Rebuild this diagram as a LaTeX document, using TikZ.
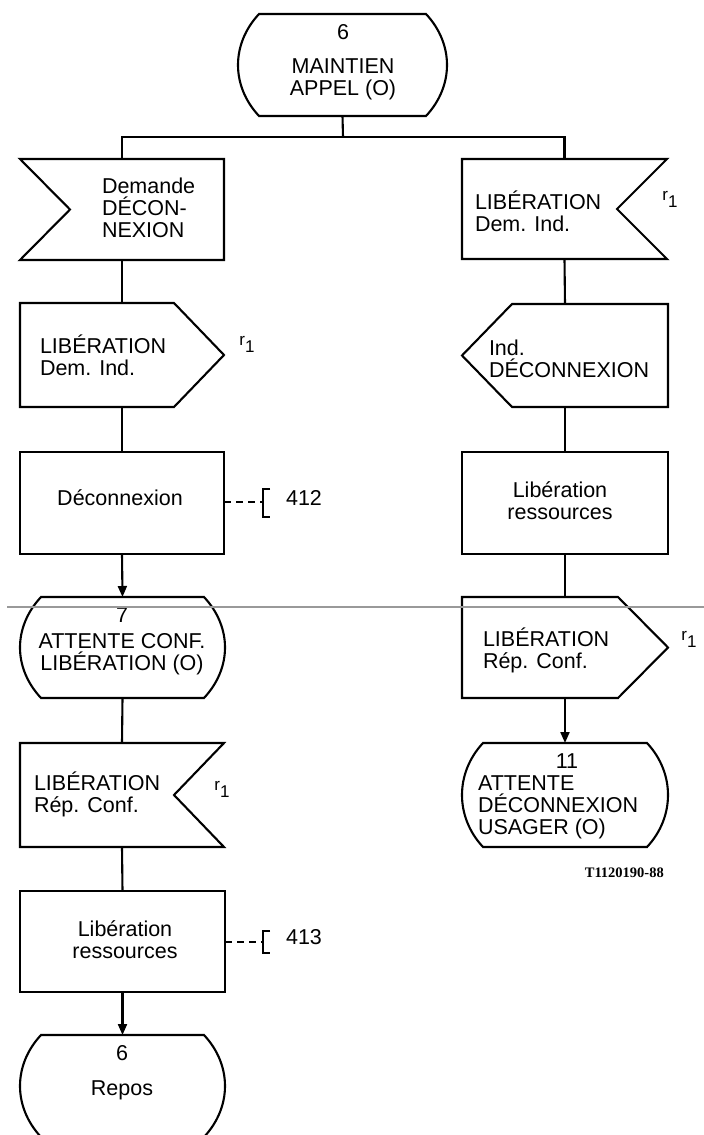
\documentclass[tikz,border=0pt]{standalone}
\usepackage{fontspec}
\setmainfont{Liberation Sans}
\newfontfamily\refserif{Liberation Serif}
\usetikzlibrary{arrows.meta,calc}

% SDL symbol outlines, drawn around an invisible frame node
\newcommand\drawState[1]{%
  \draw[outline] ($(#1.north west)+(21,0)$) -- ($(#1.north east)+(-21,0)$)
    .. controls ($(#1.north east)+(7,30)$) and ($(#1.south east)+(7,-30)$) .. ($(#1.south east)+(-21,0)$)
    -- ($(#1.south west)+(21,0)$)
    .. controls ($(#1.south west)+(-7,-30)$) and ($(#1.north west)+(-7,30)$) .. ($(#1.north west)+(21,0)$) -- cycle;}
\newcommand\drawInWest[1]{%
  \draw[outline] (#1.north west) -- (#1.north east) -- (#1.south east) -- (#1.south west)
    -- ($(#1.west)+(50,0)$) -- cycle;}
\newcommand\drawInEast[1]{%
  \draw[outline] (#1.north west) -- (#1.north east) -- ($(#1.east)+(-50,0)$) -- (#1.south east)
    -- (#1.south west) -- cycle;}
\newcommand\drawOutEast[1]{%
  \draw[outline] (#1.north west) -- ($(#1.north east)+(-50,0)$) -- (#1.east)
    -- ($(#1.south east)+(-50,0)$) -- (#1.south west) -- cycle;}
\newcommand\drawOutWest[1]{%
  \draw[outline] ($(#1.north west)+(50,0)$) -- (#1.north east) -- (#1.south east)
    -- ($(#1.south west)+(50,0)$) -- (#1.west) -- cycle;}
% comment bracket at a coordinate: top offset, bottom offset
\newcommand\drawBracket[3]{%
  \draw[outline] ($(#1)+(7,-#2)$) -- ($(#1)+(0,-#2)$) -- ($(#1)+(0,#3)$) -- ($(#1)+(7,#3)$);}
\newcommand\rone{\raisebox{7pt}{r}1}

\begin{document}
\begin{tikzpicture}[x=1pt,y=-1pt,
  outline/.style={line width=2.1pt, line join=miter},
  link/.style={line width=2.1pt},
  arrowlink/.style={link, -{Triangle[length=11pt,width=9pt]}},
  dashlink/.style={line width=2.1pt, dash pattern=on 7pt off 5pt},
  frame/.style 2 args={inner sep=0pt, outer sep=0pt, minimum width=#1pt, minimum height=#2pt},
  taskbox/.style 2 args={frame={#1}{#2}, draw, line width=2.1pt},
  txt/.style={inner sep=0pt, outer sep=0pt, font=\fontsize{21.5}{22}\selectfont},
  ltxt/.style={txt, align=left, anchor=west},
  ctxt/.style={txt, align=center},
  rmark/.style={inner sep=0pt, font=\fontsize{17}{17}\selectfont},
  figref/.style={inner sep=0pt, anchor=east, font=\refserif\bfseries\fontsize{14.5}{15}\selectfont}
]
\useasboundingbox (0,0) rectangle (704,1135);

% ---------- frames ----------
\node[frame={209}{102}] (s6) at (342.5,65) {};
\node[frame={204}{101}] (in1) at (122,209.5) {};
\node[frame={205}{100}] (in2) at (564.5,209) {};
\node[frame={204}{104}] (out1) at (122,355) {};
\node[frame={206}{103}] (out2) at (565,355.5) {};
\node[taskbox={204}{102}] (t1) at (122,503) {};
\node[taskbox={206}{102}] (t2) at (565,503) {};
\node[frame={205}{101}] (s7) at (122.5,647.5) {};
\node[frame={206}{101}] (out3) at (565,647.5) {};
\node[frame={206}{104}] (s11) at (565,795) {};
\node[frame={204}{104}] (in3) at (122,795) {};
\node[taskbox={205}{101}] (t3) at (122.5,941.5) {};
\node[frame={205}{102}] (s6b) at (122.5,1086) {};

% ---------- outlines ----------
\drawState{s6}
\drawInWest{in1}
\drawInEast{in2}
\drawOutEast{out1}
\drawOutWest{out2}
\drawState{s7}
\drawOutEast{out3}
\drawState{s11}
\drawInEast{in3}
\drawState{s6b}

% ---------- texts ----------
\node[ctxt] (s6n) at (343,32) {6};
\node[ctxt] (s6t) at (343,79) {MAINTIEN\\APPEL (O)};
\node[ltxt] (in1t) at (102,208) {Demande\\DÉCON-\\NEXION};
\node[ltxt] (in2t) at (475,211) {LIBÉRATION\\Dem. Ind.};
\node[rmark] (in2r) at (670,199) {\rone};
\node[ltxt] (out1t) at (40,355) {LIBÉRATION\\Dem. Ind.};
\node[rmark] (out1r) at (247,344) {\rone};
\node[ltxt] (out2t) at (489,359) {Ind.\\DÉCONNEXION};
\node[ctxt] (t1t) at (120,498) {Déconnexion};
\node[ctxt] (t2t) at (560,501) {Libération\\ressources};
\node[ctxt] (s7n) at (122,615) {7};
\node[ctxt] (s7t) at (122,654) {ATTENTE CONF.\\LIBÉRATION (O)};
\node[ltxt] (out3t) at (483,650) {LIBÉRATION\\Rép. Conf.};
\node[rmark] (out3r) at (689,639) {\rone};
\node[ctxt] (s11n) at (567,761) {11};
\node[ltxt] (s11t) at (478,807) {ATTENTE\\DÉCONNEXION\\USAGER (O)};
\node[ltxt] (in3t) at (34,794) {LIBÉRATION\\Rép. Conf.};
\node[rmark] (in3r) at (222,789) {\rone};
\node[ctxt] (t3t) at (125,940) {Libération\\ressources};
\node[ctxt] (s6bn) at (122,1053) {6};
\node[ctxt] (s6bt) at (122,1090) {Repos};
\node[figref] (fig) at (664,873) {T1120190-88};

% ---------- connectors ----------
\coordinate (split) at (343,137);
\draw[link] (s6.south) -- (split);
\draw[link] (split) -| (in1.north);
\draw[link] (split) -| (in2.north);
\draw[link] (in1.south) -- (out1.north);
\draw[link] (out1.south) -- (t1.north);
\draw[arrowlink] (t1.south) -- (s7.north);
\draw[link] (s7.south) -- (in3.north);
\draw[link] (in3.south) -- (t3.north);
\draw[arrowlink] (t3.south) -- (s6b.north);
\draw[link] (in2.south) -- (out2.north);
\draw[link] (out2.south) -- (t2.north);
\draw[link] (t2.south) -- (out3.north);
\draw[arrowlink] (out3.south) -- (s11.north);

% ---------- comment brackets ----------
\coordinate (c412) at (263,502);
\draw[dashlink] (t1.east |- c412) -- (c412);
\drawBracket{c412}{13}{15}
\node[txt] (n412) at (304,498) {412};
\coordinate (c413) at (263,942);
\draw[dashlink] (t3.east |- c413) -- (c413);
\drawBracket{c413}{11}{11}
\node[txt] (n413) at (304,937) {413};

% ---------- horizontal rule across the sheet ----------
\draw[gray!80, line width=1.4pt] (7,607) -- (704,607);
\end{tikzpicture}
\end{document}
